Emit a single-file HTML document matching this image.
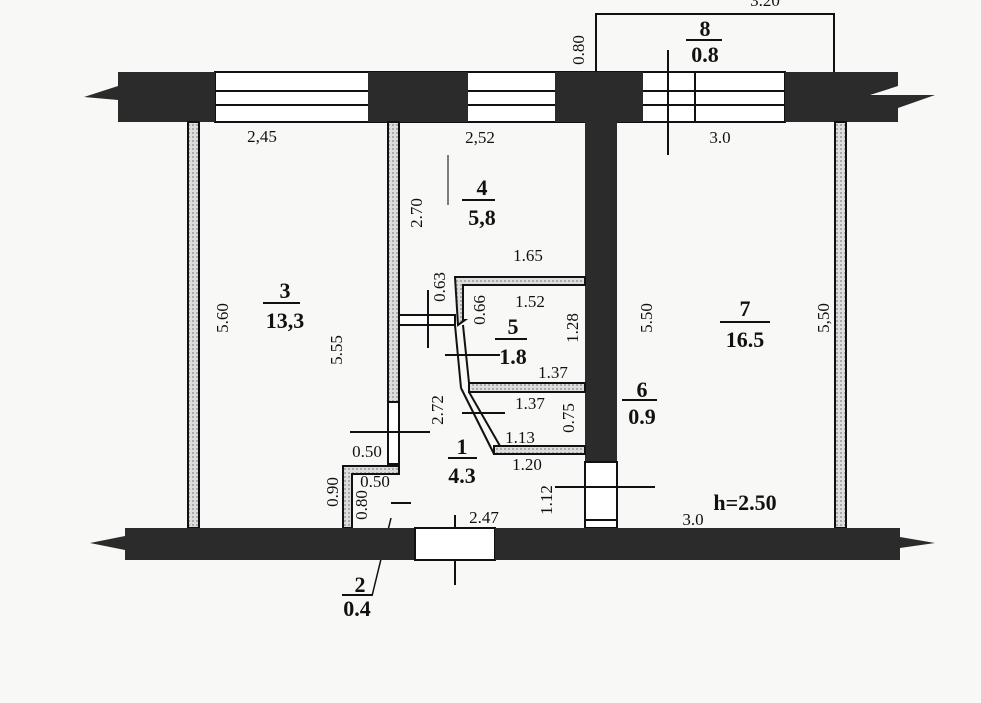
<!DOCTYPE html>
<html><head><meta charset="utf-8"><style>
html,body{margin:0;padding:0;background:#f8f8f6;}
svg{display:block;}
text{font-family:"Liberation Serif",serif;fill:#111;}
.b{font-weight:bold;font-size:22px;}
.s{font-size:17px;}
</style></head><body>
<svg width="981" height="703" viewBox="0 0 981 703" xmlns="http://www.w3.org/2000/svg">
<defs>
<pattern id="h" width="4" height="4" patternUnits="userSpaceOnUse"><rect width="4" height="4" fill="#ddd"/><rect width="2" height="2" fill="#aaa"/></pattern>
</defs>
<rect width="981" height="703" fill="#f8f8f6"/>
<!-- balcony -->
<polyline points="596,72 596,14 834,14 834,72" fill="none" stroke="#111" stroke-width="2"/>
<!-- top wall -->
<rect x="215" y="72" width="570" height="50" fill="#fff" stroke="#111" stroke-width="2"/>
<line x1="215" y1="91" x2="785" y2="91" stroke="#111" stroke-width="2"/>
<line x1="215" y1="105" x2="785" y2="105" stroke="#111" stroke-width="2"/>
<polygon points="118,72 215,72 215,122 118,122 118,100 84,97 118,86" fill="#2b2b2b"/>
<rect x="368" y="72" width="100" height="50" fill="#2b2b2b"/>
<rect x="555" y="72" width="88" height="50" fill="#2b2b2b"/>
<polygon points="785,72 898,72 898,86 870,95 935,95 898,108 898,122 785,122" fill="#2b2b2b"/>
<line x1="695" y1="73" x2="695" y2="121" stroke="#111" stroke-width="2"/>
<line x1="668" y1="50" x2="668" y2="155" stroke="#111" stroke-width="2"/>
<!-- central wall -->
<rect x="585" y="120" width="32" height="342" fill="#2b2b2b"/>
<rect x="585" y="462" width="32" height="66" fill="#fff" stroke="#111" stroke-width="2"/>
<line x1="585" y1="520" x2="617" y2="520" stroke="#111" stroke-width="2"/>
<line x1="555" y1="487" x2="655" y2="487" stroke="#111" stroke-width="2"/>
<!-- interior walls -->
<rect x="188" y="122" width="11" height="406" fill="url(#h)" stroke="#111" stroke-width="2"/>
<rect x="835" y="122" width="11" height="406" fill="url(#h)" stroke="#111" stroke-width="2"/>
<rect x="388" y="122" width="11" height="280" fill="url(#h)" stroke="#111" stroke-width="2"/>
<rect x="388" y="402" width="11" height="62" fill="#fff" stroke="#111" stroke-width="2"/>
<!-- room 2 -->
<path d="M343,528 V466 H399 V474 H352 V528 Z" fill="url(#h)" stroke="#111" stroke-width="2"/>
<!-- pantry 5 -->
<path d="M455,277 H585 V285 H463 V320 L465,320 L458,325 Z" fill="url(#h)" stroke="#111" stroke-width="2"/>
<rect x="469" y="383" width="116" height="9" fill="url(#h)" stroke="#111" stroke-width="2"/>
<rect x="494" y="446" width="91" height="8" fill="url(#h)" stroke="#111" stroke-width="2"/>
<line x1="455" y1="325" x2="461" y2="388" stroke="#111" stroke-width="2"/>
<line x1="463" y1="325" x2="469" y2="383" stroke="#111" stroke-width="2"/>
<line x1="461" y1="388" x2="494" y2="454" stroke="#111" stroke-width="2"/>
<line x1="469" y1="392" x2="500" y2="446" stroke="#111" stroke-width="2"/>
<rect x="399" y="315" width="56" height="10" fill="#fff" stroke="#111" stroke-width="2"/>
<line x1="428" y1="290" x2="428" y2="348" stroke="#111" stroke-width="2"/>
<line x1="445" y1="355" x2="500" y2="355" stroke="#111" stroke-width="2"/>
<line x1="462" y1="413" x2="505" y2="413" stroke="#111" stroke-width="2"/>
<line x1="350" y1="432" x2="430" y2="432" stroke="#111" stroke-width="2"/>
<line x1="391" y1="503" x2="411" y2="503" stroke="#111" stroke-width="2"/>
<line x1="391" y1="518" x2="372" y2="596" stroke="#111" stroke-width="1.5"/>
<line x1="455" y1="515" x2="455" y2="585" stroke="#111" stroke-width="2"/>
<line x1="448" y1="155" x2="448" y2="205" stroke="#555" stroke-width="1.5"/>
<!-- bottom wall -->
<polygon points="125,528 415,528 415,560 125,560 125,550 90,543 125,536" fill="#2b2b2b"/>
<rect x="415" y="528" width="80" height="32" fill="#fff" stroke="#111" stroke-width="2"/>
<polygon points="495,528 900,528 900,537 935,543 900,548 900,560 495,560" fill="#2b2b2b"/>
<!-- labels -->
<text class="s" x="262" y="142" text-anchor="middle">2,45</text>
<text class="s" x="480" y="143" text-anchor="middle">2,52</text>
<text class="s" x="720" y="143" text-anchor="middle">3.0</text>
<text class="s" x="765" y="6" text-anchor="middle">3.20</text>
<text class="s" transform="translate(584,50) rotate(-90)" text-anchor="middle">0.80</text>
<text class="b" x="705" y="36" text-anchor="middle">8</text><line x1="686" y1="40" x2="722" y2="40" stroke="#111" stroke-width="2"/><text class="b" x="705" y="62" text-anchor="middle">0.8</text>
<text class="b" x="285" y="298" text-anchor="middle">3</text><line x1="263" y1="303" x2="300" y2="303" stroke="#111" stroke-width="2"/><text class="b" x="285" y="328" text-anchor="middle">13,3</text>
<text class="b" x="482" y="195" text-anchor="middle">4</text><line x1="462" y1="200" x2="495" y2="200" stroke="#111" stroke-width="2"/><text class="b" x="482" y="225" text-anchor="middle">5,8</text>
<text class="b" x="513" y="334" text-anchor="middle">5</text><line x1="495" y1="339" x2="527" y2="339" stroke="#111" stroke-width="2"/><text class="b" x="513" y="364" text-anchor="middle">1.8</text>
<text class="b" x="642" y="397" text-anchor="middle">6</text><line x1="622" y1="400" x2="657" y2="400" stroke="#111" stroke-width="2"/><text class="b" x="642" y="424" text-anchor="middle">0.9</text>
<text class="b" x="745" y="316" text-anchor="middle">7</text><line x1="720" y1="322" x2="770" y2="322" stroke="#111" stroke-width="2"/><text class="b" x="745" y="347" text-anchor="middle">16.5</text>
<text class="b" x="462" y="454" text-anchor="middle">1</text><line x1="448" y1="458" x2="477" y2="458" stroke="#111" stroke-width="2"/><text class="b" x="462" y="483" text-anchor="middle">4.3</text>
<text class="b" x="360" y="592" text-anchor="middle">2</text><line x1="342" y1="595" x2="372" y2="595" stroke="#111" stroke-width="2"/><text class="b" x="357" y="616" text-anchor="middle">0.4</text>
<text class="b" x="745" y="510" text-anchor="middle">h=2.50</text>
<text class="s" x="693" y="525" text-anchor="middle">3.0</text>
<text class="s" x="484" y="523" text-anchor="middle">2.47</text>
<text class="s" x="528" y="261" text-anchor="middle">1.65</text>
<text class="s" x="530" y="307" text-anchor="middle">1.52</text>
<text class="s" x="553" y="378" text-anchor="middle">1.37</text>
<text class="s" x="530" y="409" text-anchor="middle">1.37</text>
<text class="s" x="520" y="443" text-anchor="middle">1.13</text>
<text class="s" x="527" y="470" text-anchor="middle">1.20</text>
<text class="s" x="367" y="457" text-anchor="middle">0.50</text>
<text class="s" x="375" y="487" text-anchor="middle" font-size="14">0.50</text>
<text class="s" transform="translate(228,318) rotate(-90)" text-anchor="middle">5.60</text>
<text class="s" transform="translate(342,350) rotate(-90)" text-anchor="middle">5.55</text>
<text class="s" transform="translate(422,213) rotate(-90)" text-anchor="middle">2.70</text>
<text class="s" transform="translate(445,287) rotate(-90)" text-anchor="middle">0.63</text>
<text class="s" transform="translate(485,310) rotate(-90)" text-anchor="middle">0.66</text>
<text class="s" transform="translate(578,328) rotate(-90)" text-anchor="middle">1.28</text>
<text class="s" transform="translate(443,410) rotate(-90)" text-anchor="middle">2.72</text>
<text class="s" transform="translate(574,418) rotate(-90)" text-anchor="middle">0.75</text>
<text class="s" transform="translate(652,318) rotate(-90)" text-anchor="middle">5.50</text>
<text class="s" transform="translate(829,318) rotate(-90)" text-anchor="middle">5,50</text>
<text class="s" transform="translate(338,492) rotate(-90)" text-anchor="middle">0.90</text>
<text class="s" transform="translate(367,505) rotate(-90)" text-anchor="middle" font-size="14">0.80</text>
<text class="s" transform="translate(552,500) rotate(-90)" text-anchor="middle">1.12</text>
</svg>
</body></html>
